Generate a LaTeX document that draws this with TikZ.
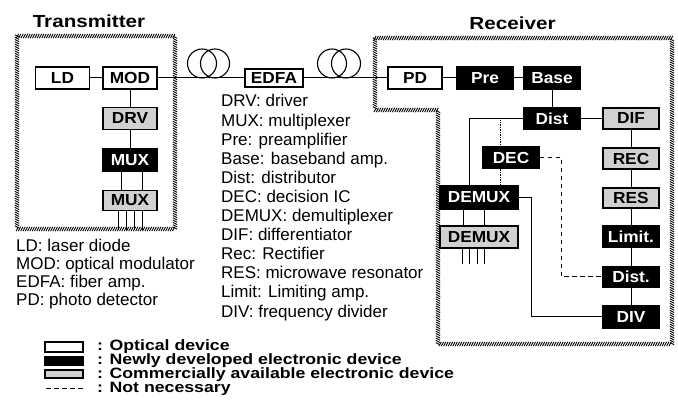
\documentclass[tikz,border=0pt]{standalone}
\usepackage{fontspec}
\setmainfont{Liberation Sans}
\newfontfamily\widebf[FakeStretch=1.18]{Liberation Sans}
\newfontfamily\boxbf[FakeStretch=1.08]{Liberation Sans}
\usetikzlibrary{decorations.markings,calc}
\begin{document}
\begin{tikzpicture}[x=1pt,y=-1pt,
  box/.style={draw=black,line width=1.1pt,inner sep=0pt,minimum width=54pt,minimum height=22pt,
    font=\boxbf\bfseries\fontsize{16}{16}\selectfont},
  opt/.style={box,fill=white},
  newb/.style={box,fill=black,text=white},
  comm/.style={box,fill=black!18},
  wire/.style={line width=1pt},
  dashes/.style={dash pattern=on 4.5pt off 3.5pt},
  dots/.style={line width=0.8pt,dash pattern=on 0.8pt off 0.9pt},
  coil/.style={circle,draw,line width=1.1pt,minimum size=29pt,inner sep=0pt},
  hatch/.style={decoration={markings,mark=between positions 0 and 1 step 2.3pt with
     {\draw[line width=0.9pt] (-1.1pt,-2.1pt) -- (1.1pt,2.1pt);}},decorate},
  txt/.style={inner sep=0pt,anchor=base west,font=\fontsize{17}{17}\selectfont},
  leg/.style={inner sep=0pt,anchor=base west,font=\widebf\bfseries\fontsize{15}{15}\selectfont},
  title/.style={inner sep=0pt,anchor=base,font=\widebf\bfseries\fontsize{17.5}{18}\selectfont}
]
\useasboundingbox (0,0) rectangle (678,411);

% titles
\node[title] (tT) at (89,27.5) {Transmitter};
\node[title] (tR) at (512.5,29.5) {Receiver};

% hatched borders
\path[hatch] (17,36) rectangle (175,229);
\path[hatch] (375,38) -- (672,38) -- (672,344) -- (438,344) -- (438,110) -- (375,110) -- cycle;

% transmitter
\node[opt]  (LD)   at (62.5,78) {LD};
\node[opt]  (MOD)  at (130,78) {MOD};
\node[comm] (DRV)  at (130,118.5) {DRV};
\node[newb] (MUXa) at (130,160) {MUX};
\node[comm,minimum height=20pt] (MUXb) at (130,200.5) {MUX};
\draw[wire] (LD.east) -- (MOD.west);
\draw[wire] (MOD.south) -- (DRV.north);
\draw[wire] (DRV.south) -- (MUXa.north);
\foreach \dx in {-9,12.5}
  \draw[wire] ($(MUXa.south)+(\dx,0)$) -- ($(MUXb.north)+(\dx,0)$);
\foreach \dx in {-12,-4,4,12}
  \draw[wire] ($(MUXb.south)+(\dx,0)$) -- ++(0,18.5);

% fibre link
\node[coil] (c1a) at (202,63.5) {};
\node[coil] (c1b) at (215,63.5) {};
\node[opt,minimum width=58pt,minimum height=18pt] (EDFA) at (274,78) {EDFA};
\node[coil] (c2a) at (332,63.5) {};
\node[coil] (c2b) at (346,63.5) {};

% receiver
\node[opt]  (PD)   at (415,78) {PD};
\node[newb,minimum width=56pt] (Pre)  at (485,78) {Pre};
\node[newb,minimum width=56pt] (Base) at (552,78) {Base};
\node[newb,minimum width=56pt] (Dist) at (552,118.5) {Dist};
\node[comm,minimum width=56pt,minimum height=21pt] (DIF)  at (631,118.5) {DIF};
\node[comm,minimum width=56pt,minimum height=21pt] (REC)  at (631,158.5) {REC};
\node[comm,minimum width=56pt,minimum height=20pt] (RES)  at (631,198) {RES};
\node[newb,minimum width=56pt] (Lim)  at (631,236.5) {Limit.};
\node[newb,minimum width=56pt,minimum height=21pt] (DistB) at (631,277) {Dist.};
\node[newb,minimum width=56pt] (DIV)  at (631,317) {DIV};
\node[newb,minimum width=56pt,minimum height=21pt] (DEC)  at (511,157.5) {DEC};
\node[newb,minimum width=78pt,minimum height=23pt] (DMX)  at (479,197.5) {DEMUX};
\node[comm,minimum width=78pt,minimum height=22pt] (DMXg) at (479,237) {DEMUX};

\draw[wire] (MOD.east) -- (EDFA.west);
\draw[wire] (EDFA.east) -- (PD.west);
\draw[wire] (PD.east) -- (Pre.west);
\draw[wire] (Pre.east) -- (Base.west);
\draw[wire] (Base.south) -- (Dist.north);
\draw[wire] (Dist.east) -- (DIF.west);
\draw[wire] (DIF.south) -- (REC.north);
\draw[wire] (REC.south) -- (RES.north);
\draw[wire] (RES.south) -- (Lim.north);
\draw[wire] (Lim.south) -- (DistB.north);
\draw[wire] (DistB.south) -- (DIV.north);
\draw[wire] (Dist.west) -| ($(DMX.north)+(-10,0)$);
\coordinate (dtop) at (500,118.5);
\draw[dots] (dtop) -- (dtop |- DEC.north);
\draw[dots] (dtop |- DEC.south) -- (dtop |- DMX.north);
\draw[wire,dashes] (DEC.east) -| ($(DistB.west)+(-41,0)$) -- (DistB.west);
\draw[wire] (DMX.east) -| ($(DIV.west)+(-71,0)$) -- (DIV.west);
\foreach \dx in {-16,5}
  \draw[wire] ($(DMX.south)+(\dx,0)$) -- ($(DMXg.north)+(\dx,0)$);
\foreach \dx in {-17,-10,-2,5}
  \draw[wire] ($(DMXg.south)+(\dx,0)$) -- ++(0,15);

% abbreviations
\foreach \t [count=\i] in {LD: laser diode, MOD: optical modulator, EDFA: fiber amp., PD: photo detector}
  \node[txt] (a\i) at (16,{252+17.7*(\i-1)}) {\t};
\foreach \t [count=\i] in {DRV: driver, MUX: multiplexer, Pre: preamplifier, Base: baseband amp.,
  Dist: distributor, DEC: decision IC, DEMUX: demultiplexer, DIF: differentiator,
  Rec: Rectifier, RES: microwave resonator, Limit: Limiting amp., DIV: frequency divider}
  \node[txt] (m\i) at (221,{107+19.1*(\i-1)}) {\t};

% legend
\node[draw,line width=1.1pt,fill=white,minimum width=38pt,minimum height=10pt,inner sep=0pt] (L1) at (64,347) {};
\node[draw,line width=1.1pt,fill=black,minimum width=38pt,minimum height=8pt,inner sep=0pt] (L2) at (64,361) {};
\node[draw,line width=1.1pt,fill=black!18,minimum width=38pt,minimum height=8pt,inner sep=0pt] (L3) at (64,374) {};
\coordinate (L4a) at (46,389);
\coordinate (L4b) at (84,389);
\draw[wire,dashes] (L4a) -- (L4b);
\node[leg] (T1) at (97,351) {: Optical device};
\node[leg] (T2) at (97,365) {: Newly developed electronic device};
\node[leg] (T3) at (97,379) {: Commercially available electronic device};
\node[leg] (T4) at (97,393) {: Not necessary};
\end{tikzpicture}
\end{document}
